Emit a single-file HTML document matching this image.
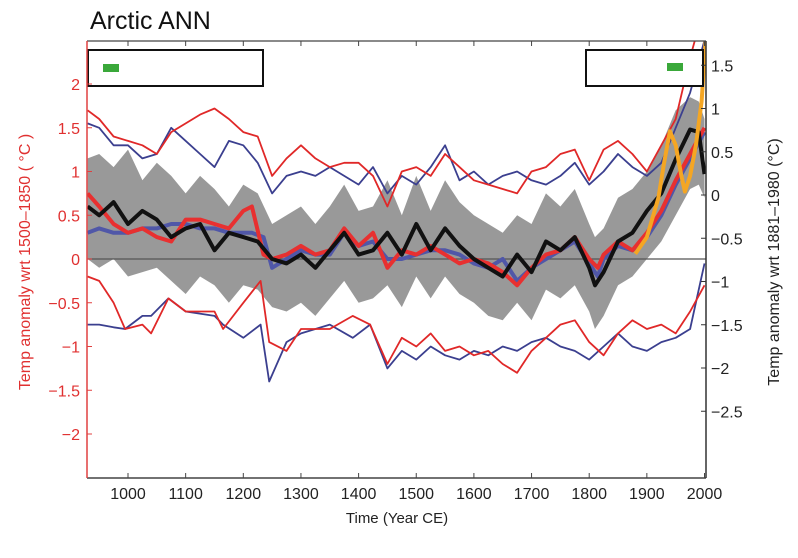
<!DOCTYPE html>
<html><head><meta charset="utf-8"><style>
body{margin:0;background:#fff;}
svg{display:block;font-family:"Liberation Sans",sans-serif;}
</style></head><body>
<svg id="chart" width="798" height="558">
<text x="90" y="29" font-size="25" fill="#111">Arctic ANN</text>
<g id="plot"></g>
</svg>
<script>
const NS="http://www.w3.org/2000/svg";
const yrHiRed=[930,950,975,1000,1025,1050,1075,1100,1125,1150,1175,1200,1225,1250,1275,1300,1325,1350,1375,1400,1425,1450,1475,1500,1525,1550,1575,1600,1625,1650,1675,1700,1725,1750,1775,1800,1825,1850,1875,1900,1925,1950,1975,2000];
const hiRed=[1.7,1.6,1.4,1.35,1.3,1.2,1.45,1.55,1.65,1.72,1.6,1.45,1.4,0.95,1.15,1.3,1.15,1.05,1.1,1.1,0.95,0.6,1.0,1.05,0.95,1.2,1.05,0.9,0.85,0.8,0.75,1.0,1.05,1.2,1.25,0.9,1.25,1.35,1.2,1.0,1.3,1.6,2.3,2.9];
const hiBlue=[1.55,1.5,1.3,1.3,1.15,1.2,1.5,1.35,1.2,1.05,1.35,1.3,1.1,0.75,0.95,1.0,0.95,1.05,0.95,0.85,1.05,0.75,0.95,0.85,1.05,1.3,0.9,1.0,0.85,0.95,1.0,0.9,0.85,0.95,1.1,0.85,1.0,1.2,1.05,0.95,1.1,1.5,1.9,2.5];
const yrLo=[930,950,975,995,1025,1040,1070,1100,1150,1165,1200,1230,1245,1275,1300,1350,1390,1420,1450,1475,1500,1525,1550,1575,1600,1625,1650,1675,1700,1725,1750,1775,1800,1825,1850,1875,1900,1925,1950,1975,2000];
const loRed=[-0.2,-0.25,-0.5,-0.8,-0.75,-0.85,-0.45,-0.6,-0.6,-0.8,-0.5,-0.25,-0.95,-1.05,-0.8,-0.8,-0.65,-0.75,-1.2,-0.9,-1.0,-0.85,-1.05,-1.0,-1.1,-1.05,-1.2,-1.3,-1.05,-0.9,-0.75,-0.7,-0.95,-1.1,-0.85,-0.7,-0.8,-0.75,-0.85,-0.6,-0.3];
const loBlue=[-0.75,-0.75,-0.78,-0.8,-0.65,-0.65,-0.45,-0.6,-0.65,-0.75,-0.9,-0.75,-1.4,-0.95,-0.85,-0.75,-0.9,-0.75,-1.25,-1.05,-1.15,-1.0,-1.1,-1.15,-1.05,-1.1,-1.0,-1.05,-0.95,-0.9,-1.0,-1.05,-1.15,-1.0,-0.85,-1.0,-1.05,-0.95,-0.9,-0.8,-0.05];
const yrMid=[930,950,975,1000,1025,1050,1075,1100,1125,1150,1175,1200,1215,1235,1250,1275,1300,1325,1350,1375,1400,1425,1450,1475,1500,1525,1550,1575,1600,1625,1650,1675,1700,1725,1750,1775,1800,1815,1825,1850,1875,1900,1925,1950,1975,2000];
const midRed=[0.75,0.6,0.4,0.3,0.35,0.25,0.2,0.45,0.45,0.4,0.35,0.55,0.6,0.05,0.0,0.05,0.15,0.05,0.1,0.35,0.15,0.3,-0.1,0.1,0.05,0.15,0.05,-0.05,0.0,-0.05,-0.15,-0.3,-0.1,0.05,0.1,0.25,0.0,-0.1,0.05,0.2,0.1,0.3,0.55,0.9,1.2,1.5];
const midBlue=[0.3,0.35,0.3,0.3,0.35,0.35,0.4,0.4,0.35,0.35,0.3,0.3,0.3,0.25,-0.1,0.0,0.1,0.05,0.05,0.3,0.15,0.2,0.0,0.0,0.05,0.1,0.1,0.05,-0.05,-0.1,0.0,-0.25,-0.1,0.0,0.1,0.2,-0.05,-0.2,0.0,0.15,0.1,0.25,0.5,0.85,1.15,1.45];
const yrBlack=[930,950,975,1000,1025,1050,1075,1100,1125,1150,1175,1200,1225,1250,1275,1300,1325,1350,1375,1400,1425,1450,1475,1500,1525,1550,1575,1600,1625,1650,1675,1700,1725,1750,1775,1800,1810,1825,1850,1875,1900,1925,1950,1975,1990,2000];
const black=[0.6,0.5,0.65,0.4,0.55,0.45,0.25,0.35,0.4,0.1,0.3,0.25,0.2,0.0,-0.05,0.05,-0.1,0.1,0.3,0.05,0.1,0.3,0.05,0.4,0.1,0.35,0.15,0.0,-0.1,-0.2,0.05,-0.15,0.2,0.1,0.25,-0.1,-0.3,-0.15,0.2,0.3,0.55,0.75,1.14,1.48,1.45,0.97];
const bandHi=[1.15,1.2,1.05,1.25,0.9,1.1,0.95,0.75,0.95,0.8,0.6,0.85,0.75,0.4,0.5,0.6,0.4,0.6,0.85,0.55,0.6,0.9,0.5,0.95,0.55,0.9,0.65,0.5,0.4,0.3,0.5,0.4,0.75,0.6,0.8,0.4,0.25,0.35,0.7,0.8,1.0,1.3,1.7,1.85,1.8,1.6];
const bandLo=[0.0,-0.1,0.0,-0.2,-0.15,-0.1,-0.25,-0.4,-0.2,-0.3,-0.5,-0.3,-0.35,-0.55,-0.6,-0.5,-0.65,-0.45,-0.25,-0.5,-0.45,-0.3,-0.55,-0.2,-0.45,-0.2,-0.4,-0.5,-0.65,-0.7,-0.5,-0.7,-0.35,-0.45,-0.3,-0.6,-0.8,-0.65,-0.3,-0.2,0.0,0.2,0.5,0.8,0.85,0.7];
const yrOrange=[1880,1900,1920,1930,1940,1950,1960,1966,1975,1985,1995,2003];
const orange=[0.06,0.25,0.7,1.1,1.46,1.3,0.95,0.77,0.95,1.3,1.8,2.6];
const xTicks=[1000,1100,1200,1300,1400,1500,1600,1700,1800,1900,2000];
const yLeftTicks=[-2,-1.5,-1,-0.5,0,0.5,1,1.5,2];
const yRightTicks=[-2.5,-2,-1.5,-1,-0.5,0,0.5,1,1.5];

const L=87,R=706,T=41,B=478;
const x=yr=>128+(yr-1000)*0.5765;
const y=v=>259-v*87.5;
const yr2=v=>195-v*86.5;
const g=document.getElementById('plot');
function mk(tag,at){const e=document.createElementNS(NS,tag);for(const k in at)e.setAttribute(k,at[k]);g.appendChild(e);return e;}
const cp=document.createElementNS(NS,'clipPath');cp.setAttribute('id','clip');
const cr=document.createElementNS(NS,'rect');cr.setAttribute('x',L);cr.setAttribute('y',T);cr.setAttribute('width',R-L);cr.setAttribute('height',B-T);cp.appendChild(cr);g.appendChild(cp);
const pl=document.createElementNS(NS,'g');pl.setAttribute('clip-path','url(#clip)');g.appendChild(pl);
function pts(xs,vs){return xs.map((t,i)=>x(t).toFixed(1)+','+y(vs[i]).toFixed(1)).join(' ');}
let bp=yrBlack.map((t,i)=>x(t)+','+y(bandHi[i])).concat(yrBlack.map((t,i)=>x(t)+','+y(bandLo[i])).reverse()).join(' ');
const band=document.createElementNS(NS,'polygon');band.setAttribute('points',bp);band.setAttribute('fill','#999');pl.appendChild(band);


const zl=document.createElementNS(NS,'line');zl.setAttribute('x1',L);zl.setAttribute('x2',R);zl.setAttribute('y1',y(0));zl.setAttribute('y2',y(0));zl.setAttribute('stroke','#555');zl.setAttribute('stroke-width','1.2');pl.appendChild(zl);


function line(xs,vs,col,w,name){const p=document.createElementNS(NS,'polyline');p.setAttribute('points',pts(xs,vs));p.setAttribute('fill','none');p.setAttribute('stroke',col);p.setAttribute('stroke-width',w);p.setAttribute('stroke-linejoin','round');pl.appendChild(p);

}
line(yrHiRed,hiBlue,'#3b3f8f',1.8,'upper-blue-bound');
line(yrHiRed,hiRed,'#e02828',1.8,'upper-red-bound');
line(yrLo,loBlue,'#3b3f8f',1.8,'lower-blue-bound');
line(yrLo,loRed,'#e02828',1.8,'lower-red-bound');
line(yrMid,midBlue,'#5057a8',4,'blue-reconstruction');
line(yrMid,midRed,'#e83030',4,'red-reconstruction');
line(yrBlack,black,'#111',4,'black-reconstruction');
line(yrOrange,orange,'#f5a623',4,'orange-instrumental');
const lb1=mk('rect',{x:88,y:50,width:175,height:36,fill:'#fff',stroke:'#111','stroke-width':2});

const lg1=mk('rect',{x:103,y:64,width:16,height:8,fill:'#3aa83a'});

const lb2=mk('rect',{x:586,y:50,width:117,height:36,fill:'#fff',stroke:'#111','stroke-width':2});

const lg2=mk('rect',{x:667,y:63,width:16,height:8,fill:'#3aa83a'});

mk('line',{x1:L,x2:R,y1:T,y2:T,stroke:'#444','stroke-width':1.2});
mk('line',{x1:L,x2:R,y1:B,y2:B,stroke:'#444','stroke-width':1.5});
mk('line',{x1:L,x2:L,y1:T,y2:B,stroke:'#e04040','stroke-width':1.5});
mk('line',{x1:R,x2:R,y1:T,y2:B,stroke:'#333','stroke-width':1.5});
xTicks.forEach(t=>{mk('line',{x1:x(t),x2:x(t),y1:B,y2:B-5,stroke:'#444'});mk('line',{x1:x(t),x2:x(t),y1:T,y2:T+5,stroke:'#444'});
const tx=mk('text',{x:x(t),y:B+21,'font-size':16,'text-anchor':'middle',fill:'#222'});tx.textContent=t;
});
yLeftTicks.forEach(v=>{mk('line',{x1:L,x2:L+5,y1:y(v),y2:y(v),stroke:'#e04040'});
const tx=mk('text',{x:L-7,y:y(v)+6,'font-size':16,'text-anchor':'end',fill:'#e03030'});tx.textContent=String(v).replace('-','\u2212');
});
yRightTicks.forEach(v=>{mk('line',{x1:R,x2:R-5,y1:yr2(v),y2:yr2(v),stroke:'#333'});
const tx=mk('text',{x:R+5,y:yr2(v)+6,'font-size':16,fill:'#222'});tx.textContent=String(v).replace('-','\u2212');
});
const xt=mk('text',{x:397,y:523,'font-size':15,'text-anchor':'middle',fill:'#222'});xt.textContent='Time (Year CE)';

const ylt=mk('text',{x:0,y:0,'font-size':16,'text-anchor':'middle',fill:'#e03030',transform:'translate(30,262) rotate(-90)'});ylt.textContent='Temp anomaly wrt 1500\u20131850 ( \u00b0C )';

const yrt=mk('text',{x:0,y:0,'font-size':16,'text-anchor':'middle',fill:'#222',transform:'translate(779,262) rotate(-90)'});yrt.textContent='Temp anomaly wrt 1881\u20131980 (\u00b0C)';

</script>
</body></html>
